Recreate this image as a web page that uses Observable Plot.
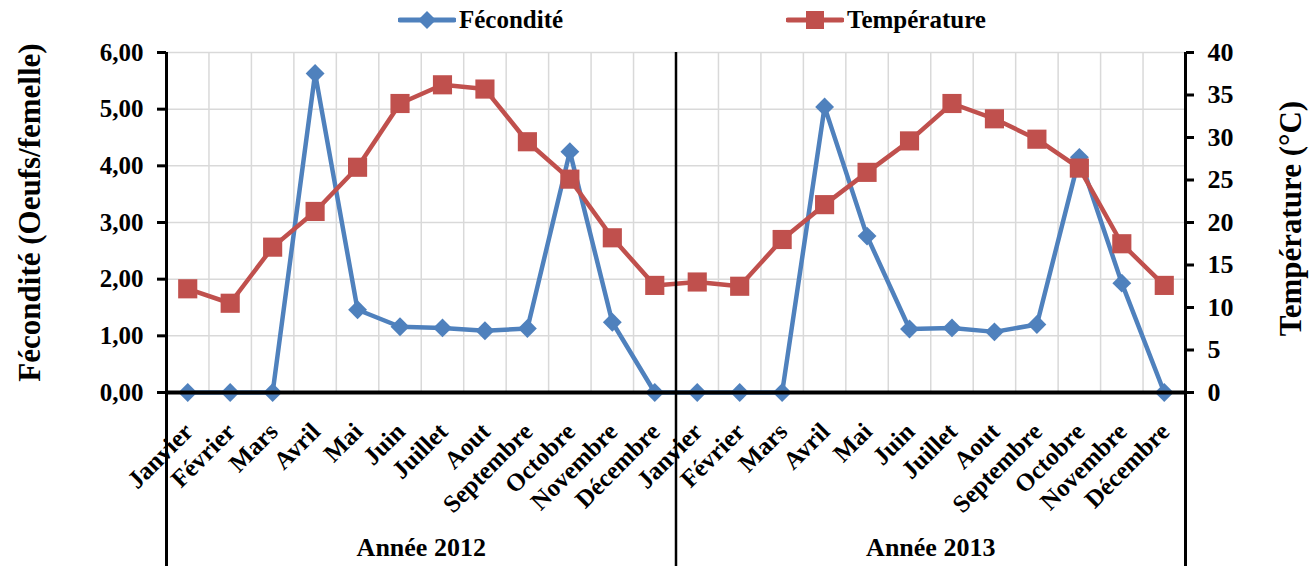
<!DOCTYPE html>
<html lang="fr">
<head>
<meta charset="utf-8">
<script src="https://cdn.jsdelivr.net/npm/d3@7"></script>
<script src="https://cdn.jsdelivr.net/npm/@observablehq/plot@0.6"></script>
<style>
  html, body { margin: 0; padding: 0; background: #fff; }
  #wrap { position: relative; width: 1316px; height: 566px; font-family: "Liberation Serif", "Times New Roman", serif; font-weight: bold; }
  .legend { position: absolute; top: 3px; height: 34px; display: flex; align-items: center; font-size: 25px; color: #000; }
  .legend svg { display: block; margin-right: 3px; }
</style>
</head>
<body>
<div id="wrap">
  <div class="legend" style="left: 398px;">
    <svg width="58" height="24" viewBox="0 0 58 24">
      <line x1="2" y1="12" x2="56" y2="12" stroke="#4f81bd" stroke-width="5" stroke-linecap="round"/>
      <path d="M29 3 L38 12 L29 21 L20 12 Z" fill="#4f81bd"/>
    </svg>
    <span>Fécondité</span>
  </div>
  <div class="legend" style="left: 786px;">
    <svg width="58" height="24" viewBox="0 0 58 24">
      <line x1="2" y1="12" x2="56" y2="12" stroke="#c0504d" stroke-width="5" stroke-linecap="round"/>
      <rect x="20" y="3" width="18" height="18" fill="#c0504d"/>
    </svg>
    <span>Température</span>
  </div>
</div>
<script>
// Mois et années
const months = ["Janvier", "Février", "Mars", "Avril", "Mai", "Juin", "Juillet", "Aout", "Septembre", "Octobre", "Novembre", "Décembre"];
const years = ["Année 2012", "Année 2013"];

// Fécondité (oeufs/femelle)
const fec2012 = [0, 0, 0, 5.63, 1.46, 1.16, 1.14, 1.09, 1.13, 4.25, 1.24, 0];
const fec2013 = [0, 0, 0, 5.04, 2.76, 1.12, 1.14, 1.07, 1.20, 4.15, 1.93, 0];

// Température (°C)
const temp2012 = [12.2, 10.5, 17.1, 21.3, 26.5, 34.0, 36.2, 35.7, 29.5, 25.1, 18.2, 12.6];
const temp2013 = [13.0, 12.5, 18.0, 22.1, 25.9, 29.6, 34.0, 32.2, 29.8, 26.4, 17.5, 12.6];

// Graduations des deux axes
const fecTicks = [0, 1, 2, 3, 4, 5, 6];
const tempTicks = [0, 5, 10, 15, 20, 25, 30, 35, 40];

const FEC_MAX = 6, TEMP_MAX = 40;
const toFec = t => t * FEC_MAX / TEMP_MAX;

const fec = [...fec2012, ...fec2013];
const temp = [...temp2012, ...temp2013];
const rows = fec.map((f, i) => ({i, month: months[i % 12], fec: f, temp: temp[i]}));
const yearRows = years.map((label, k) => ({label, x: k * 12 + 5.5}));

const blue = "#4f81bd", red = "#c0504d", grid = "#d9d9d9";
const font = "'Liberation Serif', 'Times New Roman', serif";

const bandEdges = d3.range(25).map(k => k - 0.5);

const chart = Plot.plot({
  width: 1316,
  height: 566,
  marginLeft: 166,
  marginRight: 131,
  marginTop: 52,
  marginBottom: 174,
  style: {fontFamily: font, fontWeight: "bold", color: "#000", background: "transparent"},
  x: {domain: [-0.5, 23.5], axis: null},
  y: {domain: [0, FEC_MAX], axis: null},
  marks: [
    // quadrillage
    Plot.ruleX(bandEdges, {stroke: grid, strokeWidth: 1.5}),
    Plot.ruleY(fecTicks, {stroke: grid, strokeWidth: 1.5}),

    // axe gauche : fécondité
    Plot.axisY(fecTicks, {
      anchor: "left", label: null, tickSize: 9, tickPadding: 14, strokeWidth: 3,
      tickFormat: v => v.toFixed(2).replace(".", ","), fontSize: 25, fontWeight: "bold"
    }),
    // axe droit : température
    Plot.axisY(tempTicks.map(toFec), {
      anchor: "right", label: null, tickSize: 8, tickPadding: 14, strokeWidth: 3,
      tickFormat: v => String(Math.round(v * TEMP_MAX / FEC_MAX)), fontSize: 26, fontWeight: "bold"
    }),
    // mois
    Plot.axisX(d3.range(24), {
      anchor: "bottom", label: null, tickSize: 0, tickPadding: 35, tickRotate: -45,
      tickFormat: i => months[i % 12], fontSize: 25, fontWeight: "bold", dx: 1
    }),
    // années
    Plot.text(yearRows, {x: "x", text: "label", frameAnchor: "bottom", dy: 163, lineAnchor: "bottom",
      fontSize: 26, fontWeight: "bold", fill: "#000"}),

    // titres des axes
    Plot.text(["Fécondité (Oeufs/femelle)"], {frameAnchor: "left", textAnchor: "middle", rotate: -90,
      dx: -136, dy: -10, fontSize: 31, fontWeight: "bold", fill: "#000"}),
    Plot.text(["Température (°C)"], {frameAnchor: "right", textAnchor: "middle", rotate: -90,
      dx: 106, dy: -4, fontSize: 31, fontWeight: "bold", fill: "#000"}),

    // séries
    Plot.line(rows, {x: "i", y: "fec", stroke: blue, strokeWidth: 4.5}),
    Plot.dot(rows, {x: "i", y: "fec", symbol: "diamond2", r: 8.5, fill: blue, stroke: null}),
    Plot.line(rows, {x: "i", y: d => toFec(d.temp), stroke: red, strokeWidth: 4.5}),
    Plot.dot(rows, {x: "i", y: d => toFec(d.temp), symbol: "square", r: 10.8, fill: red, stroke: null}),

    // axes et séparateurs d'années
    Plot.ruleY([0], {stroke: "#000", strokeWidth: 4}),
    Plot.ruleX([-0.5, 23.5], {stroke: "#000", strokeWidth: 3, insetBottom: -174}),
    Plot.ruleX([11.5], {stroke: "#000", strokeWidth: 2.5, insetBottom: -174})
  ]
});

chart.style.position = "absolute";
chart.style.left = "0";
chart.style.top = "0";
document.getElementById("wrap").prepend(chart);
</script>
</body>
</html>
